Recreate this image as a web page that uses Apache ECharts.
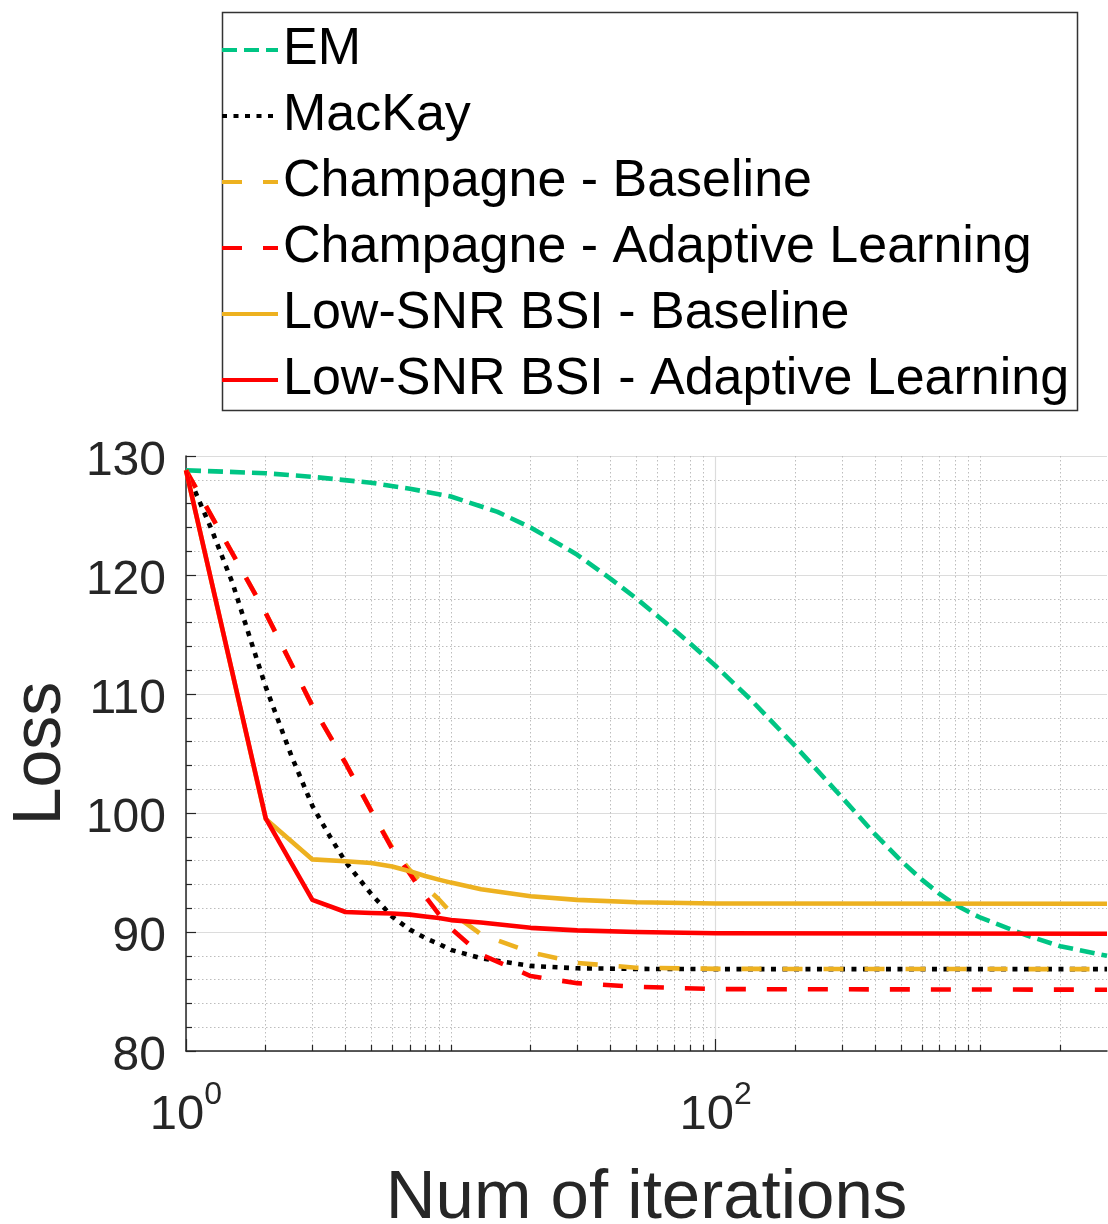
<!DOCTYPE html>
<html><head><meta charset="utf-8">
<script src="https://cdn.jsdelivr.net/npm/echarts@6/dist/echarts.min.js"></script>
<style>html,body{margin:0;padding:0;background:#fff}#c{width:1108px;height:1224px}</style>
</head><body><div id="c"></div>
<script>
const seriesNames = ['EM', 'MacKay', 'Champagne - Baseline', 'Champagne - Adaptive Learning', 'Low-SNR BSI - Baseline', 'Low-SNR BSI - Adaptive Learning'];

const emX = [1, 2, 3, 5, 7, 10, 15, 20, 30, 40, 50, 60, 70, 80, 90, 100, 136, 200, 300, 400, 500, 600, 700, 800, 900, 1000, 1500, 2000, 3000];
const emY = [128.8, 128.55, 128.25, 127.75, 127.25, 126.6, 125.3, 124.0, 121.7, 119.7, 118.05, 116.6, 115.35, 114.25, 113.25, 112.35, 109.5, 105.6, 101.3, 98.2, 96.0, 94.4, 93.2, 92.3, 91.7, 91.2, 89.7, 88.8, 88.0];

const mkX = [1, 1.25, 1.5, 1.75, 2, 2.5, 3, 3.5, 4, 5, 6, 7, 8, 9, 10, 13, 20, 30, 50, 100, 3000];
const mkY = [128.8, 123.8, 119.3, 114.6, 110.6, 104.8, 100.6, 98.0, 95.9, 93.2, 91.3, 90.2, 89.5, 89.0, 88.5, 87.8, 87.15, 86.95, 86.9, 86.88, 86.88];

const itX = [1, 2, 3, 4, 5, 6, 7, 8, 9, 10, 13, 20, 30, 50, 100, 3000];
const cbY = [128.8, 116.8, 109.0, 104.2, 100.2, 97.1, 95.2, 93.8, 92.75, 91.65, 89.8, 88.3, 87.4, 87.0, 86.9, 86.88];
const caY = [128.8, 116.8, 109.0, 104.2, 100.2, 97.0, 94.9, 93.0, 91.5, 90.3, 88.1, 86.3, 85.7, 85.4, 85.2, 85.15];
const lbY = [128.8, 99.5, 96.1, 95.95, 95.8, 95.5, 95.1, 94.7, 94.4, 94.15, 93.6, 93.0, 92.7, 92.5, 92.4, 92.38];
const laY = [128.8, 99.55, 92.7, 91.68, 91.6, 91.55, 91.46, 91.3, 91.18, 91.0, 90.8, 90.35, 90.14, 90.0, 89.9, 89.85];

const xMajorTicks = [1, 100];
const xMinorTicks = [2, 3, 4, 5, 6, 7, 8, 9, 10, 20, 30, 40, 50, 60, 70, 80, 90, 200, 300, 400, 500, 600, 700, 800, 900, 1000, 2000];

const FONT = '"Liberation Sans", Arial, Helvetica, sans-serif';
const AX = '#262626';

function pairs(xs, ys) { return xs.map((x, i) => [x, ys[i]]); }

const chart = echarts.init(document.getElementById('c'), null, {renderer: 'canvas'});

const styles = [
  {color: '#00c584', type: [15, 7]},
  {color: '#000000', type: [5, 6.5]},
  {color: '#edb120', type: [20, 21]},
  {color: '#ff0000', type: [20, 21]},
  {color: '#edb120', type: 'solid'},
  {color: '#ff0000', type: 'solid'}
];
const dataSets = [pairs(emX, emY), pairs(mkX, mkY), pairs(itX, cbY), pairs(itX, caY), pairs(itX, lbY), pairs(itX, laY)];

const option = {
  animation: false,
  backgroundColor: '#fff',
  grid: {left: 186, right: 1, top: 456, bottom: 173, containLabel: false, outerBoundsMode: 'none'},
  graphic: [{
    type: 'rect', left: 220, top: 10, z: 0, silent: true,
    shape: {width: 855, height: 398},
    style: {fill: 'none', stroke: '#333', lineWidth: 1.5}
  }],
  legend: {
    orient: 'vertical', left: 220, top: 17,
    itemWidth: 56, itemHeight: 14, itemGap: 0,
    padding: 0, borderWidth: 0,
    itemStyle: {opacity: 0},
    lineStyle: {width: 4},
    textStyle: {fontSize: 52, lineHeight: 66, color: '#000', fontFamily: FONT},
    data: seriesNames
  },
  xAxis: [
    {
      type: 'log', logBase: 10, min: 1, max: 3000, position: 'bottom',
      axisLine: {show: true, lineStyle: {color: AX, width: 1.5}},
      axisTick: {show: true, inside: true, length: 6, customValues: xMinorTicks, lineStyle: {color: AX, width: 1.2}},
      splitLine: {show: true, lineStyle: {color: '#bdbdbd', type: [1.5, 2.5], width: 1}},
      minorTick: {show: false}, minorSplitLine: {show: false},
      axisLabel: {show: false},
      name: 'Num of iterations', nameLocation: 'middle', nameGap: 113,
      nameTextStyle: {fontSize: 69, color: AX, fontFamily: FONT}
    },
    {
      type: 'log', logBase: 10, min: 1, max: 3000, position: 'bottom',
      axisLine: {show: false},
      axisTick: {show: true, inside: true, length: 12, customValues: xMajorTicks, lineStyle: {color: AX, width: 1.2}},
      splitLine: {show: true, lineStyle: {color: '#dcdcdc', type: 'solid', width: 1.2}},
      axisLabel: {
        show: true, customValues: xMajorTicks, margin: 28,
        formatter: function (v) { return '{b|10}{s|' + Math.round(Math.log10(v)) + '}'; },
        rich: {
          b: {fontSize: 49, color: AX, fontFamily: FONT, padding: [12, 0, 0, 0]},
          s: {fontSize: 32, color: AX, fontFamily: FONT, verticalAlign: 'top'}
        }
      }
    }
  ],
  yAxis: {
    type: 'value', min: 80, max: 130, interval: 10,
    axisLine: {show: true, lineStyle: {color: AX, width: 1.5}},
    axisTick: {show: true, inside: true, length: 10, lineStyle: {color: AX, width: 1.2}},
    minorTick: {show: true, splitNumber: 5, length: 6, lineStyle: {color: AX, width: 1.2}},
    splitLine: {show: true, lineStyle: {color: '#dcdcdc', width: 1.2}},
    minorSplitLine: {show: true, lineStyle: {color: '#bdbdbd', type: [1.5, 2.5], width: 1}},
    axisLabel: {
      margin: 20,
      formatter: function (v) { return '{n|' + v + '}'; },
      rich: {n: {fontSize: 48, color: AX, fontFamily: FONT, padding: [12, 0, 0, 0]}}
    },
    name: 'Loss', nameLocation: 'middle', nameGap: 111,
    nameTextStyle: {fontSize: 68, color: AX, fontFamily: FONT}
  },
  series: seriesNames.map((n, i) => ({
    name: n, type: 'line', xAxisIndex: 0, data: dataSets[i],
    symbol: 'none', showSymbol: false, smooth: false,
    color: styles[i].color,
    lineStyle: {color: styles[i].color, width: 4.6, type: styles[i].type, cap: 'butt', join: 'round'},
    emphasis: {disabled: true}
  }))
};
chart.setOption(option);
</script>
</body></html>
